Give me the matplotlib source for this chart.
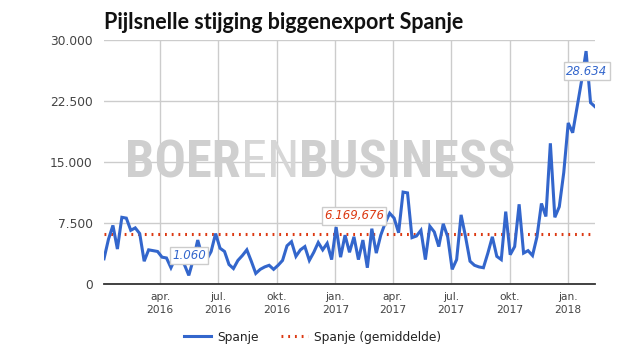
import pandas as pd
import matplotlib.pyplot as plt
from matplotlib import font_manager

# weekly export of piglets (Spanje), week 1 2016 - week 7 2018
weeks = pd.date_range('2016-01-04', periods=111, freq='7D')
spanje = [
    3100, 5500, 7200, 4300, 8200, 8100, 6600, 6900, 6200, 2800,
    4200, 4100, 4000, 3300, 3200, 2000, 3200, 2900, 2400, 1060,
    3000, 5400, 3400, 3000, 4000, 6200, 4400, 4000, 2400, 1900,
    2900, 3500, 4200, 2800, 1300, 1800, 2100, 2300, 1800, 2300,
    2900, 4700, 5200, 3400, 4200, 4600, 2900, 3900, 5100, 4200,
    5000, 3000, 7000, 3300, 6000, 3900, 5800, 3000, 5400, 2000,
    6800, 3800, 6000, 7500, 8700, 8100, 6300, 11300, 11200, 5700,
    5900, 6600, 3000, 7100, 6400, 4600, 7400, 5800, 1800, 3000,
    8500, 5800, 2800, 2300, 2100, 2000, 3800, 5800, 3400, 3000,
    8900, 3600, 4600, 9800, 3800, 4100, 3500, 5800, 9900, 8300,
    17300, 8200, 9500, 13700, 19800, 18600, 21800, 25000, 28634, 22300,
    21800,
]
gemiddelde = 6169.676

tick_dates = pd.to_datetime(['2016-04-01', '2016-07-01', '2016-10-01', '2017-01-01',
                             '2017-04-01', '2017-07-01', '2017-10-01', '2018-01-01'])
tick_labels = ['apr.\n2016', 'jul.\n2016', 'okt.\n2016', 'jan.\n2017',
               'apr.\n2017', 'jul.\n2017', 'okt.\n2017', 'jan.\n2018']
y_ticks = [0, 7500, 15000, 22500, 30000]
y_labels = ['0', '7.500', '15.000', '22.500', '30.000']

blue = '#3366cc'
red = '#dc3912'

names = {f.name for f in font_manager.fontManager.ttflist}
narrow = 'DejaVu Sans'
for cand in ['Liberation Sans Narrow', 'Roboto Condensed', 'Open Sans Condensed']:
    if cand in names:
        narrow = cand
        break
title_font = 'Lato' if 'Lato' in names else 'DejaVu Sans'

fig = plt.figure(figsize=(6.25, 3.55), dpi=100)
ax = fig.add_axes([104 / 625, 1 - 284 / 355, 491 / 625, 244 / 355])

ax.plot(weeks, spanje, color=blue, lw=2.2, label='Spanje', zorder=3, solid_joinstyle='miter')
ax.axhline(gemiddelde, color=red, lw=2.2, ls=(0, (0.6, 1.6)), label='Spanje (gemiddelde)', zorder=2)

ax.set_xlim(weeks[0], weeks[-1])
ax.set_ylim(0, 30000)
ax.set_xticks(tick_dates)
ax.set_xticklabels(tick_labels, fontsize=7.7, color='#444444', linespacing=1.35)
ax.set_yticks(y_ticks)
ax.set_yticklabels(y_labels, fontsize=8.8, color='#444444')
ax.tick_params(length=0, pad=8)
ax.tick_params(axis='x', pad=6)
ax.grid(True, color='#cccccc', lw=1)
ax.set_axisbelow(True)
for s in ['left', 'right', 'top']:
    ax.spines[s].set_visible(False)
ax.spines['bottom'].set_color('#333333')
ax.spines['bottom'].set_linewidth(1.3)

# watermark, fitted to ~390 px wide
wm_size = 35
t1 = ax.text(0.043, (284 - 177) / 244, 'BOER', transform=ax.transAxes, color='#cfcfcf',
             weight='bold', fontsize=wm_size, family=narrow, fontstretch='condensed',
             va='baseline', ha='left', zorder=1)
t2 = ax.annotate('EN', xy=(1, 0), xycoords=t1, va='bottom', ha='left', color='#d6d6d6',
                 fontsize=wm_size, family=narrow, fontstretch='condensed', zorder=1)
t3 = ax.annotate('BUSINESS', xy=(1, 0), xycoords=t2, va='bottom', ha='left', color='#cfcfcf',
                 weight='bold', fontsize=wm_size, family=narrow, fontstretch='condensed', zorder=1)
title = fig.text(104 / 625, 1 - 29 / 355, 'Pijlsnelle stijging biggenexport Spanje',
                 family=title_font, weight='bold', fontsize=14, color='#111111',
                 ha='left', va='baseline')

r = fig.canvas.get_renderer()
w = t3.get_window_extent(r).x1 - t1.get_window_extent(r).x0
for t in (t1, t2, t3):
    t.set_fontsize(wm_size * 390 / w)
tw = title.get_window_extent(r).width
title.set_fontsize(14 * 364 / tw)

# data labels
box = dict(boxstyle='square,pad=0.2', fc='white', ec='#cccccc', lw=1)
i_max = spanje.index(max(spanje))
i_min = spanje.index(min(spanje))
ax.annotate('28.634', (weeks[i_max], spanje[i_max]), xytext=(1, -20), textcoords='offset pixels',
            ha='center', va='center', color=blue, style='italic', fontsize=8.5, bbox=box, zorder=5)
ax.annotate('1.060', (weeks[i_min], spanje[i_min]), xytext=(0, 20), textcoords='offset pixels',
            ha='center', va='center', color=blue, style='italic', fontsize=8.5, bbox=box, zorder=5)
ax.annotate('6.169,676', (weeks[56], gemiddelde), xytext=(0, 18), textcoords='offset pixels',
            ha='center', va='center', color=red, style='italic', fontsize=8.5, bbox=box, zorder=5)

fig.legend(loc='center', bbox_to_anchor=(0.5, 1 - 337 / 355), ncol=2, frameon=False,
           fontsize=8.8, handlelength=2.2, columnspacing=1.8, handletextpad=0.5,
           labelcolor='#222222')

fig.savefig('out.png', dpi=100)
